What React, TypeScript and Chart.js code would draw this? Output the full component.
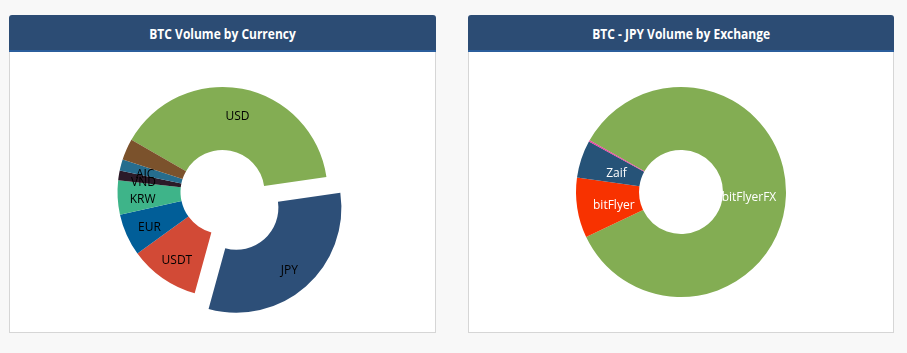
import React, { useEffect, useRef } from "react";
import { Chart, registerables } from "chart.js";

Chart.register(...registerables);

// ---- Data: BTC volume by currency (share, %) ----
const currencyLabels = ["USD", "JPY", "USDT", "EUR", "KRW", "VND", "AIC", "Other"];
const currencyVolumes = [39.4, 31.5, 10.75, 6.5, 5.25, 1.47, 1.72, 3.28];
const currencyColors = ["#83ad53", "#2d4f78", "#d24a36", "#015e98", "#3eb489", "#2b1a28", "#266d8e", "#7b522c"];
const currencyTextHidden = ["Other"];
const currencyPulled = "JPY";

// ---- Data: BTC - JPY volume by exchange (share, %) ----
const exchangeLabels = ["bitFlyerFX", "bitFlyer", "Zaif", "Other"];
const exchangeVolumes = [84.75, 9.25, 5.78, 0.22];
const exchangeColors = ["#83ad53", "#f83200", "#265378", "#e8409c"];
const exchangeTextHidden = ["Other"];

// Pull one slice outward (like a pie "pull"), moving the library's arc element along its bisector.
const pullSlice = {
  id: "pullSlice",
  afterDatasetsUpdate(chart: any, _args: any, opts: any) {
    if (!opts || !opts.label) return;
    const meta = chart.getDatasetMeta(0);
    const labels: string[] = chart.data.labels;
    meta.data.forEach((arc: any, i: number) => {
      if (labels[i] !== opts.label) return;
      const mid = (arc.startAngle + arc.endAngle) / 2;
      arc.x += Math.cos(mid) * opts.distance;
      arc.y += Math.sin(mid) * opts.distance;
    });
  },
};

const sliceText = {
  id: "sliceText",
  afterDatasetsDraw(chart: any, _args: any, opts: any) {
    const { ctx } = chart;
    const meta = chart.getDatasetMeta(0);
    const labels: string[] = chart.data.labels;
    ctx.save();
    ctx.font = opts.font || "12px 'Open Sans'";
    ctx.fillStyle = opts.color || "#000";
    ctx.textAlign = "center";
    ctx.textBaseline = "middle";
    meta.data.forEach((arc: any, i: number) => {
      const lab = labels[i];
      if ((opts.hidden || []).includes(lab)) return;
      const mid = (arc.startAngle + arc.endAngle) / 2;
      const r = opts.radius || 80;
      ctx.fillText(lab, arc.x + Math.cos(mid) * r, arc.y + Math.sin(mid) * r + 3);
    });
    ctx.restore();
  },
};

function Donut(props: {
  labels: string[];
  values: number[];
  colors: string[];
  hidden: string[];
  pulled?: string;
  rotation: number;
  textColor: string;
  textRadius: number;
  width: number;
  height: number;
}) {
  const ref = useRef<HTMLCanvasElement>(null);
  useEffect(() => {
    if (!ref.current) return;
    const chart = new Chart(ref.current, {
      type: "doughnut",
      data: {
        labels: props.labels,
        datasets: [
          {
            data: props.values,
            backgroundColor: props.colors,
            borderWidth: 0,
          } as any,
        ],
      },
      options: {
        animation: false,
        responsive: false,
        maintainAspectRatio: false,
        radius: 105,
        cutout: "40%",
        rotation: props.rotation,
        layout: { padding: 0 },
        events: [],
        plugins: {
          legend: { display: false },
          tooltip: { enabled: false },
          pullSlice: { label: props.pulled, distance: 21 },
          sliceText: {
            color: props.textColor,
            radius: props.textRadius,
            hidden: props.hidden,
            font: "12px 'Open Sans'",
          },
        } as any,
      },
      plugins: [pullSlice, sliceText],
    });
    return () => chart.destroy();
  }, []);
  return <canvas ref={ref} width={props.width} height={props.height} style={{ display: "block" }} />;
}

function Panel(props: { left: number; width: number; title: string; children: any }) {
  return (
    <div style={{ position: "absolute", left: props.left, top: 15, width: props.width }}>
      <div
        style={{
          height: 35,
          background: "#2c4c74",
          borderBottom: "2px solid #2b5e9c",
          borderRadius: "3px 3px 0 0",
          color: "#fff",
          display: "flex",
          alignItems: "center",
          justifyContent: "center",
        }}
      >
        <span
          style={{
            fontFamily: "'Open Sans', sans-serif",
            fontWeight: 700,
            fontSize: 15,
            display: "inline-block",
            transform: "scaleX(0.8)",
            whiteSpace: "nowrap",
            marginTop: 1,
          }}
        >
          {props.title}
        </span>
      </div>
      <div
        style={{
          height: 280,
          background: "#fff",
          border: "1px solid #d6d6d6",
          borderTop: "none",
        }}
      >
        {props.children}
      </div>
    </div>
  );
}

export default function App() {
  return (
    <div
      style={{
        position: "absolute",
        left: 0,
        top: 0,
        width: 907,
        height: 353,
        background: "#f8f8f8",
        overflow: "hidden",
      }}
    >
      <Panel left={9} width={427} title="BTC Volume by Currency">
        <Donut
          labels={currencyLabels}
          values={currencyVolumes}
          colors={currencyColors}
          hidden={currencyTextHidden}
          pulled={currencyPulled}
          rotation={-60.2}
          textColor="#000"
          textRadius={80}
          width={425}
          height={280}
        />
      </Panel>
      <Panel left={468} width={426} title="BTC - JPY Volume by Exchange">
        <Donut
          labels={exchangeLabels}
          values={exchangeVolumes}
          colors={exchangeColors}
          hidden={exchangeTextHidden}
          rotation={-60.5}
          textColor="#fff"
          textRadius={68}
          width={424}
          height={280}
        />
      </Panel>
    </div>
  );
}
